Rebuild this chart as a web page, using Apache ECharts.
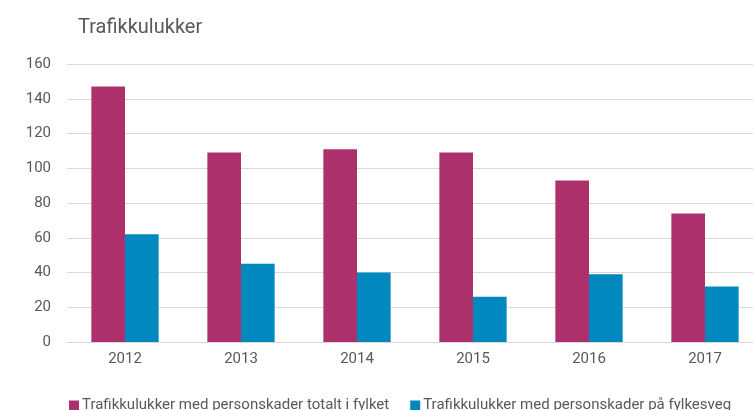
<!DOCTYPE html>
<html>
<head>
    <meta charset="utf-8">
    <title>Trafikkulukker</title>
    <style>
        html, body { margin: 0; padding: 0; background: #fff; overflow: hidden; }
        /* a little wider than the window: the original is cropped on the right */
        #chart { width: 763px; height: 410px; }
    </style>
</head>
<body>
    <div id="chart"></div>
    <script src="https://cdn.jsdelivr.net/npm/echarts@6/dist/echarts.min.js"></script>
    <script>
        // data
        var years = ['2012', '2013', '2014', '2015', '2016', '2017'];
        var totalt = [147, 109, 111, 109, 93, 74];
        var fylkesveg = [62, 45, 40, 26, 39, 32];
        var seriesNames = [
            'Trafikkulukker med personskader totalt i fylket',
            'Trafikkulukker med personskader på fylkesveg'
        ];

        var font = 'Roboto';
        var grey = '#595959';

        var myChart = echarts.init(document.getElementById('chart'));

        var option = {
            animation: false,
            title: {
                text: 'Trafikkulukker',
                left: 73,
                top: 13,
                textStyle: { fontFamily: font, fontSize: 20, fontWeight: 'normal', color: grey }
            },
            legend: {
                left: 64,
                top: 393,
                itemWidth: 10,
                itemHeight: 10,
                itemGap: 21,
                icon: 'rect',
                textStyle: { fontFamily: font, fontSize: 15, color: grey, padding: [0, 0, 0, -2] },
                data: seriesNames
            },
            grid: { left: 67, right: 0, top: 64, bottom: 68, containLabel: false },
            xAxis: {
                type: 'category',
                data: years,
                axisLine: { lineStyle: { color: '#d9d9d9' } },
                axisTick: { show: false },
                axisLabel: { fontFamily: font, fontSize: 15, color: grey, margin: 10 }
            },
            yAxis: {
                type: 'value',
                min: 0,
                max: 160,
                interval: 20,
                axisLine: { show: false },
                axisTick: { show: false },
                splitLine: { lineStyle: { color: '#d9d9d9' } },
                axisLabel: { fontFamily: font, fontSize: 15, color: grey, margin: 16 }
            },
            series: [
                {
                    name: seriesNames[0],
                    type: 'bar',
                    data: totalt,
                    barGap: '0%',
                    barCategoryGap: '42%',
                    itemStyle: { color: '#ab306b' }
                },
                {
                    name: seriesNames[1],
                    type: 'bar',
                    data: fylkesveg,
                    itemStyle: { color: '#0088bf' }
                }
            ]
        };

        myChart.setOption(option);
    </script>
</body>
</html>
